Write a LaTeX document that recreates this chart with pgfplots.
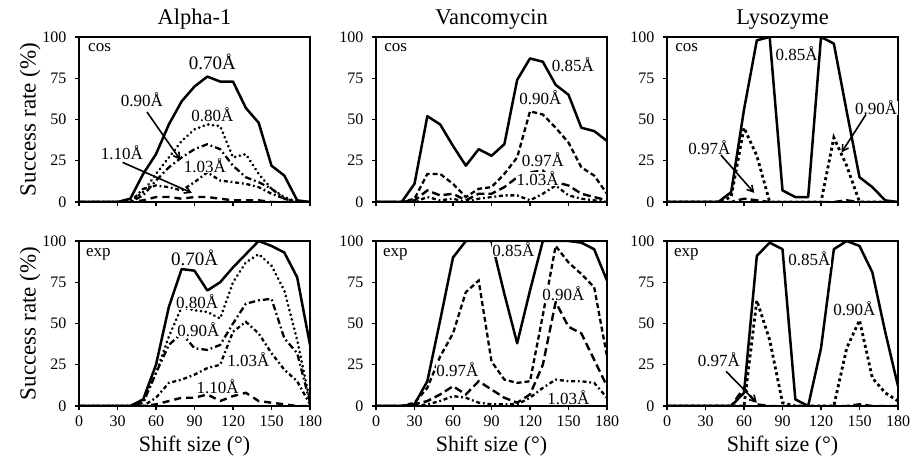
\documentclass[border=0pt]{standalone}
\usepackage{fontspec}
\setmainfont{Liberation Serif}
\usepackage{pgfplots}
\pgfplotsset{compat=1.18}
\usetikzlibrary{arrows.meta}
\newcommand{\tfont}{\fontsize{22.5}{23}\selectfont}
\newcommand{\lfont}{\fontsize{22}{22}\selectfont}
\newcommand{\yfont}{\fontsize{23}{23}\selectfont}
\pgfplotsset{
  panel/.style={
    width=231pt, height=165pt, scale only axis, anchor=south west,
    xmin=0, xmax=180, ymin=0, ymax=100,
    clip mode=individual,
    xtick={0,30,60,90,120,150,180}, ytick={0,25,50,75,100},
    tick align=outside, tick pos=left,
    major tick length=4pt,
    axis line style={line width=1.3pt},
    every tick/.style={black, line width=1.3pt},
    tick label style={font=\fontsize{16}{16}\selectfont},
    yticklabel style={xshift=-5pt},
    xticklabel style={yshift=-2pt},
    /pgf/number format/assume math mode=true,
    ylabel style={at={(axis description cs:0,0.5)}, anchor=center, rotate=0, yshift=49pt},
    xlabel style={at={(axis description cs:0.5,0)}, anchor=center, yshift=-40pt},
  },
  toprow/.style={xticklabels={}},
  sol/.style={black, line width=2.5pt, line join=round},
  dotA/.style={black, line width=3pt, line cap=round, dash pattern=on 0.01pt off 4.8pt},
  ddA/.style={black, line width=2.3pt, dash pattern=on 6.5pt off 3pt on 1.8pt off 3pt},
  ddB/.style={black, line width=2.3pt, dash pattern=on 4pt off 2.8pt on 1.8pt off 2.8pt},
  dashA/.style={black, line width=2.4pt, dash pattern=on 7pt off 5pt},
  dashV/.style={black, line width=2.3pt, dash pattern=on 5pt off 3pt},
  dashVL/.style={black, line width=2.4pt, dash pattern=on 8pt off 4pt},
  dotL/.style={black, line width=2.8pt, dash pattern=on 3pt off 3pt},
}
\tikzset{
  ann/.style={font=\fontsize{17}{17}\selectfont, inner sep=0.3pt, fill=white},
  annB/.style={font=\fontsize{19}{19}\selectfont, inner sep=0.3pt, fill=white},
  tag/.style={font=\fontsize{17}{17}\selectfont, inner sep=0pt, anchor=north west},
  ttl/.style={font=\tfont, anchor=base, inner sep=0pt, yshift=12pt},
  arr/.style={black, line width=1.6pt, -{Straight Barb[length=6pt,width=7pt]}},
}
\begin{document}
\begin{tikzpicture}
\useasboundingbox (0,0) rectangle (912pt,462pt);
% ---------------- Alpha-1 cos
\begin{axis}[panel, toprow, at={(79pt,260pt)}, ylabel={\yfont Success rate (\%)}]
\addplot[sol] coordinates {(0,0)(10,0)(20,0)(30,0)(40,2)(50,17)(60,29)(70,47)(80,61)(90,70)(100,76)(110,73)(120,73)(130,57)(140,48)(150,22)(160,16)(170,1)(180,0)};
\addplot[dotA] coordinates {(0,0)(10,0)(20,0)(30,0)(40,0)(50,6)(60,17)(70,27)(80,37)(90,44)(100,47)(110,46)(120,27)(130,29)(140,17)(150,8)(160,3)(170,0)(180,0)};
\addplot[ddA] coordinates {(0,0)(10,0)(20,0)(30,0)(40,0)(50,4)(60,13)(70,21)(80,27)(90,32)(100,35)(110,32)(120,22)(130,15)(140,12)(150,8)(160,2)(170,0)(180,0)};
\addplot[ddB] coordinates {(0,0)(10,0)(20,0)(30,0)(40,0)(50,8)(60,10)(70,9)(80,7)(90,12)(100,18)(110,13)(120,12)(130,11)(140,9)(150,5)(160,2)(170,0)(180,0)};
\addplot[dashA] coordinates {(0,0)(10,0)(20,0)(30,0)(40,0)(50,1)(60,3)(70,3)(80,2)(90,3)(100,3)(110,2)(120,1)(130,1)(140,1)(150,0)(160,0)(170,0)(180,0)};
\node[ttl] at (rel axis cs:0.5,1) {Alpha-1};
\node[tag] at (rel axis cs:0.039,0.964) {cos};
\node[annB] at (axis cs:104,85) {0.70Å};
\node[ann] at (axis cs:49,62) {0.90Å};
\node[ann] at (axis cs:104,53) {0.80Å};
\node[ann] at (axis cs:33.5,30) {1.10Å};
\node[ann] at (axis cs:98,22) {1.03Å};
\draw[arr] (axis cs:53,54.5) -- (axis cs:79,25.5);
\draw[arr] (axis cs:34,24) -- (axis cs:88,5.5);
\end{axis}
% ---------------- Vancomycin cos
\begin{axis}[panel, toprow, at={(376pt,260pt)}]
\addplot[sol] coordinates {(0,0)(10,0)(20,0)(30,11)(40,52)(50,47)(60,34)(70,22)(80,32)(90,28)(100,35)(110,74)(120,87)(130,85)(140,71)(150,65)(160,45)(170,43)(180,37)};
\addplot[dashV] coordinates {(0,0)(10,0)(20,0)(30,2)(40,17)(50,17)(60,11)(70,3)(80,8)(90,9)(100,17)(110,27)(120,55)(130,53)(140,45)(150,36)(160,21)(170,16)(180,5)};
\addplot[dashVL] coordinates {(0,0)(10,0)(20,0)(30,1)(40,7)(50,4)(60,5)(70,1)(80,5)(90,5)(100,9)(110,15)(120,18)(130,19)(140,12)(150,10)(160,5)(170,3)(180,1)};
\addplot[ddB] coordinates {(0,0)(10,0)(20,0)(30,0)(40,3)(50,1)(60,2)(70,0)(80,2)(90,3)(100,4)(110,4)(120,1)(130,5)(140,10)(150,4)(160,2)(170,1)(180,0)};
\node[ttl] at (rel axis cs:0.5,1) {Vancomycin};
\node[tag] at (rel axis cs:0.035,0.964) {cos};
\node[ann] at (axis cs:153.5,83) {0.85Å};
\node[ann] at (axis cs:128,63) {0.90Å};
\node[ann] at (axis cs:130,25.5) {0.97Å};
\node[ann] at (axis cs:126,14) {1.03Å};
\end{axis}
% ---------------- Lysozyme cos
\begin{axis}[panel, toprow, at={(667pt,260pt)}]
\addplot[sol] coordinates {(0,0)(10,0)(20,0)(30,0)(40,0)(50,6)(60,56)(70,98)(80,100)(90,7)(100,3)(110,3)(120,100)(130,96)(140,55)(150,15)(160,9)(170,1)(180,0)};
\addplot[dotL] coordinates {(0,0)(10,0)(20,0)(30,0)(40,0)(50,3)(60,45)(70,28)(80,0)(90,0)(100,0)(110,0)(120,0)(130,39)(140,22)(150,0)(160,0)(170,0)(180,0)};
\addplot[dashVL] coordinates {(0,0)(10,0)(20,0)(30,0)(40,0)(50,0)(60,2)(70,1)(80,0)(90,0)(100,0)(110,0)(120,0)(130,0)(140,1)(150,0)(160,0)(170,0)(180,0)};
\node[ttl] at (rel axis cs:0.5,1) {Lysozyme};
\node[tag] at (rel axis cs:0.035,0.964) {cos};
\node[ann] at (axis cs:101,90) {0.85Å};
\node[ann] at (axis cs:163,57) {0.90Å};
\node[ann] at (axis cs:33,33) {0.97Å};
\draw[arr] (axis cs:42,28.5) -- (axis cs:68,5.5);
\draw[arr] (axis cs:155,53) -- (axis cs:136,30);
\end{axis}
% ---------------- Alpha-1 exp
\begin{axis}[panel, at={(79pt,56pt)}, ylabel={\yfont Success rate (\%)}, xlabel={\lfont Shift size (°)}]
\addplot[sol] coordinates {(0,0)(10,0)(20,0)(30,0)(40,0)(50,4)(60,25)(70,60)(80,83)(90,82)(100,70)(110,75)(120,84)(130,92)(140,100)(150,97)(160,93)(170,78)(180,37)};
\addplot[dotA] coordinates {(0,0)(10,0)(20,0)(30,0)(40,0)(50,2)(60,20)(70,42)(80,60)(90,58)(100,57)(110,53)(120,75)(130,87)(140,92)(150,85)(160,70)(170,40)(180,3)};
\addplot[ddA] coordinates {(0,0)(10,0)(20,0)(30,0)(40,0)(50,2)(60,20)(70,37)(80,44)(90,35)(100,34)(110,37)(120,50)(130,62)(140,64)(150,65)(160,41)(170,32)(180,2)};
\addplot[ddB] coordinates {(0,0)(10,0)(20,0)(30,0)(40,0)(50,0)(60,5)(70,14)(80,16)(90,19)(100,23)(110,25)(120,45)(130,51)(140,44)(150,32)(160,22)(170,15)(180,1)};
\addplot[dashA] coordinates {(0,0)(10,0)(20,0)(30,0)(40,0)(50,0)(60,1)(70,3)(80,5)(90,5)(100,7)(110,3)(120,6)(130,8)(140,3)(150,2)(160,1)(170,0)(180,0)};
\node[tag] at (rel axis cs:0.03,0.955) {exp};
\node[annB] at (axis cs:90,90) {0.70Å};
\node[ann] at (axis cs:92,63) {0.80Å};
\node[ann] at (axis cs:93,46) {0.90Å};
\node[ann] at (axis cs:132,28) {1.03Å};
\node[ann] at (axis cs:108,11.5) {1.10Å};
\end{axis}
% ---------------- Vancomycin exp
\begin{axis}[panel, at={(376pt,56pt)}, xlabel={\lfont Shift size (°)}]
\addplot[sol] coordinates {(0,0)(10,0)(20,0)(30,1)(40,15)(50,52)(60,90)(70,100)(80,100)(90,100)(100,68)(110,38)(120,70)(130,100)(140,100)(150,100)(160,99)(170,95)(180,76)};
\addplot[dashV] coordinates {(0,0)(10,0)(20,0)(30,2)(40,11)(50,30)(60,44)(70,69)(80,76)(90,27)(100,16)(110,14)(120,15)(130,55)(140,97)(150,87)(160,80)(170,72)(180,30)};
\addplot[dashVL] coordinates {(0,0)(10,0)(20,0)(30,1)(40,3)(50,7)(60,12)(70,7)(80,15)(90,10)(100,5)(110,2)(120,7)(130,25)(140,63)(150,48)(160,44)(170,28)(180,12)};
\addplot[ddB] coordinates {(0,0)(10,0)(20,0)(30,0)(40,1)(50,3)(60,6)(70,5)(80,2)(90,1)(100,1)(110,1)(120,5)(130,11)(140,16)(150,15)(160,15)(170,14)(180,5)};
\node[tag] at (rel axis cs:0.03,0.955) {exp};
\node[ann] at (axis cs:107,95) {0.85Å};
\node[ann] at (axis cs:146,68) {0.90Å};
\node[ann] at (axis cs:63.5,22) {0.97Å};
\node[ann] at (axis cs:150,5) {1.03Å};
\end{axis}
% ---------------- Lysozyme exp
\begin{axis}[panel, at={(667pt,56pt)}, xlabel={\lfont Shift size (°)}]
\addplot[sol] coordinates {(0,0)(10,0)(20,0)(30,0)(40,0)(50,0)(60,8)(70,91)(80,99)(90,95)(100,4)(110,0)(120,35)(130,95)(140,100)(150,97)(160,81)(170,45)(180,12)};
\addplot[dotL] coordinates {(0,0)(10,0)(20,0)(30,0)(40,0)(50,0)(60,0)(70,64)(80,40)(90,2)(100,0)(110,0)(120,0)(130,0)(140,35)(150,52)(160,17)(170,8)(180,3)};
\addplot[dashVL] coordinates {(0,0)(10,0)(20,0)(30,0)(40,0)(50,0)(60,11)(70,1)(80,0)(90,0)(100,0)(110,0)(120,0)(130,0)(140,0)(150,1)(160,0)(170,0)(180,0)};
\node[tag] at (rel axis cs:0.03,0.955) {exp};
\node[ann] at (axis cs:111,89) {0.85Å};
\node[ann] at (axis cs:146,59) {0.90Å};
\node[ann] at (axis cs:40.5,28) {0.97Å};
\draw[arr] (axis cs:46,21) -- (axis cs:70,2);
\end{axis}
\end{tikzpicture}
\end{document}
